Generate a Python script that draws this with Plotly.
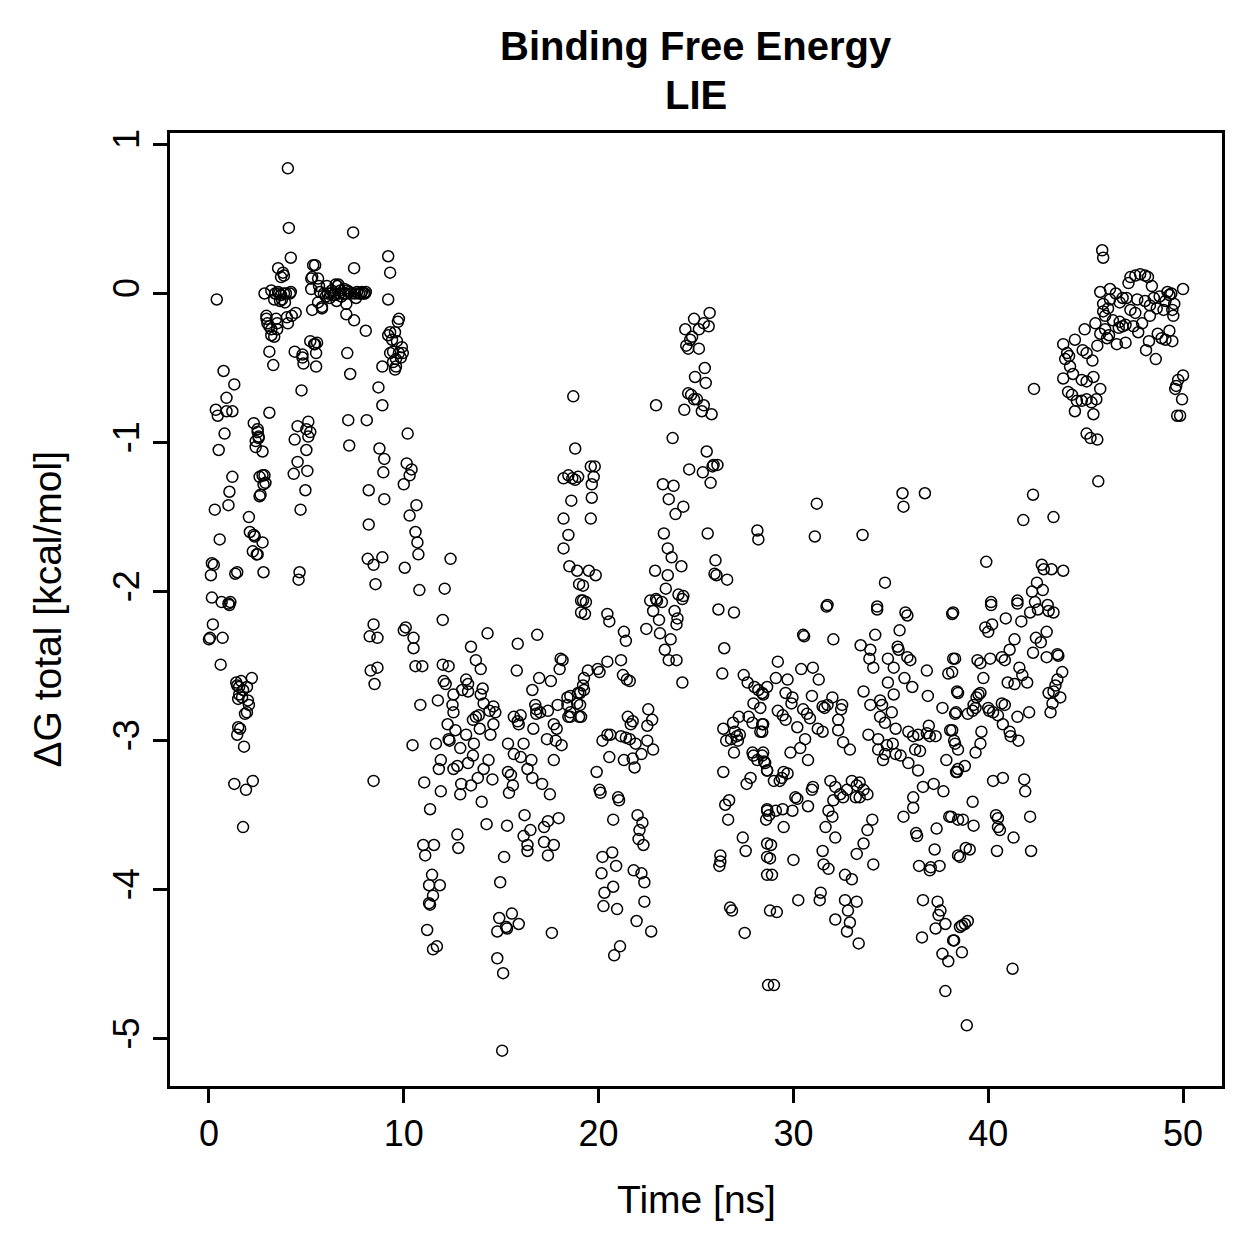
import plotly.graph_objects as go

# ---- data: (time [ns], dG total [kcal/mol]), grouped by time window ----
seg_00_06 = [
    (0.0, -2.32), (0.05, -2.31), (0.1, -1.89), (0.15, -1.81), (0.15, -2.04), (0.2, -2.22), (0.25, -1.82),
    (0.3, -1.45), (0.4, -0.04), (0.35, -0.78), (0.45, -0.82), (0.5, -1.05), (0.55, -1.65), (0.6, -2.49),
    (0.65, -2.07), (0.7, -2.31), (0.75, -0.52), (0.8, -0.94), (0.9, -0.70), (0.9, -0.79), (1.0, -1.42),
    (1.05, -1.33), (1.1, -2.07), (1.2, -1.23), (1.2, -0.79), (1.3, -0.61), (1.0, -2.08), (1.05, -2.09),
    (1.35, -1.88), (1.4, -2.61), (1.45, -2.96), (1.5, -2.91), (1.3, -3.29), (1.55, -2.64), (1.65, -2.60),
    (1.7, -2.71), (1.75, -3.58), (1.75, -2.66), (1.8, -3.04), (1.9, -3.33), (1.95, -2.81), (1.95, -2.64),
    (2.0, -2.73), (2.05, -1.50), (2.1, -1.60), (2.2, -2.58), (2.25, -3.27), (2.25, -1.73), (2.3, -0.87),
    (2.35, -1.63), (2.4, -0.99), (2.45, -1.75), (2.5, -0.91), (2.55, -0.96), (2.6, -1.23), (2.65, -1.35),
    (2.75, -1.67), (2.75, -1.22), (2.8, -1.87), (2.85, 0.0), (2.9, -1.27), (2.95, -0.15), (3.0, -0.2),
    (3.1, -0.39), (3.1, -0.80), (3.2, -0.24), (3.3, -0.48), (3.35, -0.29), (3.4, 0.0), (3.5, -0.2),
    (3.55, 0.17), (3.6, 0.0), (3.7, 0.11), (3.7, -0.01), (3.75, -0.04), (3.8, 0.14), (3.85, 0.0),
    (3.9, -0.06), (3.95, 0.0), (4.0, -0.16), (4.05, 0.84), (4.1, 0.44), (4.15, 0.0), (4.2, 0.24),
    (4.25, -0.15), (4.35, -1.21), (4.4, -0.98), (4.4, -0.39), (4.45, -0.13), (4.55, -0.89), (4.55, -1.13),
    (4.6, -1.92), (4.65, -1.87), (4.7, -1.45), (4.75, -0.65), (4.8, -0.43), (4.85, -0.47), (4.95, -1.32),
    (5.0, -0.91), (5.05, -1.19), (5.1, -0.86), (5.1, -0.96), (5.2, -0.32), (5.25, 0.1), (5.3, -0.11),
    (5.35, 0.19), (5.45, -0.34), (5.5, -0.49), (5.55, -0.33), (5.6, 0.1), (5.65, 0.05), (5.7, 0.01),
    (5.8, -0.09), (1.45, -2.63), (1.55, -2.69), (1.5, -2.72), (2.05, -2.76), (1.85, -2.82), (1.6, -2.92),
    (3.85, 0.12), (3.2, 0.02), (3.55, 0.01), (4.2, 0.01), (3.65, -0.05), (3.35, -0.04), (4.05, -0.2),
    (2.95, -0.17), (3.1, -0.22), (3.45, -0.17), (3.5, -0.24), (3.2, -0.28), (4.8, -0.41), (5.4, -0.34),
    (5.5, -0.40), (2.5, -0.93), (2.55, -0.97), (2.4, -1.03), (2.75, -1.06), (5.2, -0.93), (5.0, -1.05),
    (2.85, -1.22), (2.8, -1.28), (2.6, -1.36), (2.3, -1.62), (2.5, -1.75), (1.45, -1.87),
]

seg_06_10 = [
    (5.9, 0.0), (6.0, -0.02), (6.05, 0.05), (6.1, 0.0), (6.2, -0.03), (6.25, 0.0), (6.3, 0.02),
    (6.4, -0.01), (6.45, -0.01), (6.5, 0.06), (6.55, -0.05), (6.6, 0.05), (6.65, 0.06), (6.7, 0.0),
    (6.75, 0.02), (6.8, -0.02), (6.9, 0.0), (6.95, 0.03), (7.05, -0.07), (7.0, 0.0), (7.1, 0.02),
    (7.2, 0.01), (7.3, 0.0), (7.5, 0.0), (7.55, -0.03), (7.6, 0.01), (7.7, 0.0), (7.8, 0.0),
    (7.85, 0.01), (7.95, 0.0), (8.0, 0.0), (8.05, 0.01),
    (5.25, 0.03), (5.3, 0.11), (5.45, 0.19), (5.6, -0.06), (5.8, -0.10), (7.05, -0.14), (7.45, -0.18),
    (8.05, -0.25), (7.1, -0.40), (7.25, -0.54), (7.15, -0.85), (8.1, -0.85), (7.2, -1.02), (7.4, 0.41),
    (7.45, 0.17), (8.2, -1.32), (8.2, -1.55), (8.15, -1.78), (8.45, -1.82), (8.9, -1.77), (8.55, -1.95),
    (8.45, -2.22), (8.25, -2.30), (8.65, -2.31), (8.3, -2.53), (8.65, -2.51), (8.5, -2.62), (8.45, -3.27),
    (8.7, -0.63), (8.9, -0.75), (8.75, -1.04), (9.0, -1.11), (8.95, -1.2), (9.0, -1.38), (9.2, 0.25),
    (9.3, 0.14), (9.2, -0.04), (9.3, -0.26), (9.2, -0.28), (8.9, -0.49), (9.3, -0.40), (9.45, -0.46),
    (9.55, -0.51), (9.6, -0.44), (9.65, -0.32), (9.7, -0.19), (9.75, -0.40), (9.85, -0.43), (9.9, -0.36),
    (9.6, -0.49), (9.4, -0.31), (9.45, -0.39), (9.55, -0.26), (9.95, -0.40), (9.75, -0.17),
]

seg_10_15 = [
    (10.2, -0.94), (10.15, -1.14), (10.4, -1.18), (10.3, -1.22), (10.0, -1.28), (10.65, -1.42),
    (10.3, -1.49), (10.6, -1.60), (10.7, -1.67), (10.75, -1.75), (10.05, -1.84), (12.4, -1.78),
    (10.8, -1.99), (12.1, -1.98), (12.0, -2.19), (10.1, -2.24), (10.0, -2.26), (10.5, -2.31),
    (10.5, -2.38), (10.6, -2.50), (10.95, -2.50), (12.0, -2.49), (12.3, -2.50), (14.3, -2.28),
    (13.45, -2.37), (13.7, -2.46), (13.95, -2.52), (12.05, -2.60), (12.15, -2.62), (13.2, -2.59),
    (13.3, -2.62), (13.0, -2.66), (13.3, -2.67), (13.95, -2.69), (14.05, -2.65), (12.55, -2.69),
    (10.85, -2.76), (11.75, -2.73), (12.5, -2.76), (12.55, -2.81), (14.1, -2.75), (14.6, -2.77),
    (14.7, -2.81), (14.4, -2.80), (13.7, -2.84), (13.85, -2.83), (13.55, -2.86), (14.6, -2.89),
    (12.25, -2.89), (12.65, -2.93), (12.3, -2.99), (12.35, -3.0), (11.65, -3.02), (10.45, -3.03),
    (12.9, -3.05), (13.2, -2.96), (13.9, -2.92), (14.45, -2.96), (13.6, -3.02), (13.55, -3.10),
    (11.9, -3.13), (11.8, -3.19), (12.75, -3.17), (12.55, -3.19), (13.3, -3.15), (14.35, -3.13),
    (14.1, -3.19), (13.8, -3.25), (14.55, -3.26), (12.95, -3.29), (12.9, -3.36), (13.45, -3.30),
    (11.05, -3.28), (11.9, -3.34), (11.35, -3.46), (14.0, -3.41), (14.25, -3.56), (12.75, -3.63),
    (12.8, -3.72), (11.0, -3.70), (11.55, -3.70), (11.1, -3.77), (11.45, -3.90), (11.3, -3.97),
    (11.85, -3.97), (11.5, -4.04), (11.3, -4.09), (11.35, -4.10), (11.2, -4.27), (11.7, -4.38),
    (11.5, -4.40), (14.95, -3.95), (14.9, -4.19), (14.8, -4.28), (14.8, -4.46), (15.05, -5.08),
]

seg_15_20 = [
    (15.85, -2.35), (16.85, -2.29), (15.65, -2.84), (15.85, -2.87), (16.0, -2.83), (15.9, -2.89),
    (16.75, -2.76), (16.8, -2.82), (17.0, -2.81), (16.8, -2.79), (17.4, -2.80), (17.9, -2.76),
    (18.4, -2.76), (18.45, -2.84), (18.9, -2.75), (19.0, -2.84), (15.35, -3.02), (16.15, -3.02),
    (16.65, -2.92), (17.35, -2.99), (17.8, -3.0), (18.1, -3.03), (17.7, -2.89), (17.85, -2.92),
    (15.65, -3.09), (16.0, -3.11), (16.55, -3.13), (16.35, -3.19), (15.35, -3.21), (15.5, -3.23),
    (15.6, -3.30), (15.4, -3.35), (16.6, -3.25), (17.1, -3.29), (17.5, -3.36), (17.7, -3.13),
    (15.3, -3.57), (16.2, -3.50), (16.5, -3.60), (16.15, -3.64), (16.35, -3.70), (16.35, -3.74),
    (17.2, -3.58), (17.4, -3.54), (17.95, -3.52), (17.2, -3.68), (17.7, -3.70), (17.4, -3.77),
    (15.15, -3.78), (15.55, -4.16), (15.25, -4.25), (15.3, -4.26), (15.9, -4.23), (17.6, -4.29),
    (15.1, -4.56), (18.05, -2.45), (18.15, -2.46), (18.0, -2.52), (15.8, -2.53), (16.95, -2.58),
    (17.55, -2.60), (16.6, -2.66), (18.4, -2.71), (18.95, -2.68), (19.1, -2.14), (19.1, -2.06),
    (18.7, -0.69), (18.8, -1.04), (18.2, -1.24), (18.45, -1.22), (18.65, -1.24), (18.8, -1.25),
    (18.95, -1.23), (18.6, -1.39), (18.2, -1.51), (18.45, -1.62), (18.2, -1.71), (18.5, -1.83),
    (18.9, -1.86), (19.0, -1.95), (19.2, -2.06), (19.6, -1.16), (19.8, -1.16), (19.75, -1.23),
    (19.65, -1.28), (19.65, -1.37), (19.6, -1.51), (19.5, -1.86), (19.85, -1.89), (19.2, -1.96),
    (19.35, -2.07), (19.3, -2.15), (18.55, -2.70), (18.55, -2.84), (19.45, -2.53), (19.25, -2.58),
    (19.2, -2.63), (19.25, -2.66), (19.05, -2.68), (19.95, -2.52), (20.05, -2.54), (19.05, -2.76),
    (19.1, -2.84), (18.55, -2.81), (19.9, -3.21),
]

seg_20_28 = [
    (20.45, -2.47), (21.15, -2.46), (21.25, -2.56), (21.45, -2.59), (21.6, -2.60), (20.45, -2.15),
    (20.55, -2.20), (21.3, -2.27), (21.4, -2.33), (22.45, -2.25), (22.8, -2.13), (23.0, -2.06),
    (23.25, -2.07), (23.1, -2.19), (23.15, -2.28), (23.7, -2.32), (23.9, -2.13), (24.05, -2.18),
    (24.0, -2.22), (24.3, -2.05), (23.4, -2.39), (23.6, -2.46), (24.0, -2.46), (24.3, -2.61),
    (22.65, -2.06), (22.95, -2.05), (24.1, -2.02), (24.35, -2.03), (23.45, -1.98),
    (22.55, -2.79), (22.75, -2.86), (21.5, -2.84), (21.75, -2.87), (21.65, -2.89), (22.5, -2.90),
    (20.45, -2.96), (20.6, -2.96), (20.2, -3.0), (21.15, -2.97), (21.4, -2.98), (21.6, -2.99),
    (21.9, -3.02), (22.5, -3.0), (22.8, -3.06), (22.2, -3.09), (20.55, -3.11), (21.3, -3.13),
    (21.75, -3.12), (21.85, -3.18), (20.05, -3.33), (20.1, -3.35), (21.0, -3.38), (21.05, -3.40),
    (20.75, -3.53), (22.0, -3.50), (22.25, -3.55), (22.1, -3.60), (22.05, -3.66), (22.3, -3.70),
    (20.7, -3.75), (20.2, -3.78), (20.9, -3.84), (20.15, -3.89), (21.8, -3.87), (22.2, -3.89),
    (22.35, -3.95), (20.75, -3.98), (20.3, -4.02), (22.35, -4.08), (20.25, -4.11), (20.95, -4.13),
    (21.95, -4.21), (22.7, -4.28), (21.1, -4.38), (20.8, -4.44),
    (25.7, -0.13), (24.9, -0.17), (24.45, -0.24), (25.4, -0.20), (25.65, -0.22), (25.15, -0.24),
    (24.8, -0.29), (24.7, -0.31), (24.5, -0.35), (24.6, -0.37), (25.15, -0.37), (25.45, -0.50),
    (24.95, -0.56), (25.5, -0.60), (24.6, -0.67), (24.75, -0.68), (24.9, -0.71), (25.05, -0.71),
    (24.4, -0.78), (25.3, -0.79), (25.4, -0.75), (25.8, -0.81), (22.95, -0.75), (23.8, -0.97),
    (25.55, -1.06), (24.65, -1.18), (25.35, -1.20), (25.75, -1.27), (25.9, -1.15), (26.1, -1.15),
    (25.85, -1.16), (23.3, -1.28), (23.85, -1.29), (23.6, -1.38), (23.95, -1.48), (24.35, -1.43),
    (23.35, -1.61), (25.6, -1.61), (23.55, -1.71), (23.75, -1.77), (24.25, -1.83), (22.9, -1.86),
    (23.55, -1.89), (26.0, -1.79), (25.95, -1.88), (26.05, -1.89), (26.6, -1.92),
    (26.15, -2.12), (26.95, -2.14), (26.45, -2.38), (26.35, -2.55), (27.45, -2.56), (27.65, -2.61),
    (28.0, -2.64), (28.2, -2.66), (28.45, -2.69), (27.95, -2.75), (28.3, -2.78), (27.2, -2.84),
    (26.9, -2.88), (26.4, -2.92), (27.7, -2.84), (27.9, -2.88), (28.4, -2.89), (28.3, -2.94),
    (27.0, -2.94), (27.1, -2.97), (27.15, -3.0), (27.25, -2.96), (26.8, -2.99), (26.55, -3.0),
    (26.95, -3.08), (27.9, -3.08), (27.95, -3.10), (28.15, -3.13), (28.4, -3.10), (28.5, -3.14),
    (28.65, -3.2), (26.4, -3.21), (27.8, -3.25), (27.6, -3.29), (26.7, -3.40), (26.5, -3.43),
    (26.65, -3.53), (28.6, -3.53), (28.65, -3.46), (27.4, -3.65), (27.55, -3.74), (28.65, -3.69),
    (28.65, -3.78), (28.65, -3.90), (26.25, -3.77), (26.2, -3.84), (26.25, -3.81), (26.75, -4.12),
    (26.85, -4.14), (27.5, -4.29), (28.8, -4.14), (28.7, -4.64), (28.15, -1.59), (28.2, -1.65),
]

seg_28_38 = [
    (31.2, -1.41), (35.6, -1.34), (35.65, -1.43), (36.75, -1.34), (31.1, -1.63), (33.55, -1.62),
    (34.7, -1.94), (31.75, -2.09), (34.3, -2.10), (31.7, -2.10), (34.3, -2.12), (35.75, -2.14),
    (35.85, -2.16), (38.15, -2.15), (30.5, -2.29), (30.55, -2.30), (32.05, -2.32), (34.2, -2.29),
    (35.45, -2.26), (33.45, -2.36), (33.95, -2.39), (35.35, -2.37), (35.4, -2.39), (35.85, -2.44),
    (36.0, -2.46), (38.2, -2.45), (29.2, -2.47), (30.4, -2.52), (31.0, -2.51), (31.3, -2.59),
    (29.1, -2.58), (29.7, -2.59), (33.9, -2.45), (34.85, -2.45), (34.1, -2.51), (35.15, -2.51),
    (36.85, -2.53), (34.85, -2.61), (35.7, -2.58), (36.1, -2.64), (33.6, -2.67), (35.15, -2.69),
    (36.9, -2.70), (37.95, -2.55), (38.4, -2.67), (28.65, -2.64), (28.4, -2.68), (29.6, -2.68),
    (29.95, -2.71), (29.9, -2.75), (30.95, -2.70), (32.0, -2.71), (31.75, -2.76), (32.5, -2.76),
    (32.45, -2.79), (31.5, -2.77), (31.6, -2.78), (29.2, -2.80), (29.45, -2.83), (29.6, -2.86),
    (30.5, -2.79), (30.7, -2.82), (30.85, -2.85), (30.2, -2.91), (31.25, -2.92), (31.5, -2.94),
    (32.3, -2.86), (32.3, -2.93), (32.55, -3.01), (32.9, -3.06), (28.45, -2.89), (28.4, -2.94),
    (30.6, -2.99), (30.35, -3.05), (29.85, -3.08), (30.75, -3.13), (28.45, -3.08), (28.55, -3.15),
    (28.65, -3.20), (29.0, -3.27), (29.4, -3.25), (29.5, -3.21), (29.7, -3.22), (29.3, -3.27),
    (33.95, -2.76), (34.45, -2.73), (34.55, -2.76), (34.45, -2.84), (34.7, -2.88), (35.05, -2.81),
    (35.25, -2.92), (33.85, -2.96), (34.35, -2.99), (34.8, -3.03), (35.1, -3.02), (34.35, -3.06),
    (34.7, -3.09), (35.25, -3.09), (34.6, -3.13), (35.5, -3.10), (35.9, -2.94), (36.15, -2.97),
    (36.4, -2.96), (36.85, -2.95), (37.0, -2.97), (36.95, -2.90), (36.25, -3.06), (36.5, -3.07),
    (35.9, -3.15), (36.4, -3.20), (37.3, -2.97), (37.65, -2.78), (38.05, -2.93), (38.3, -2.82),
    (38.3, -3.02), (37.85, -3.13), (38.35, -3.21), (36.65, -3.31), (37.2, -3.29), (37.7, -3.34),
    (36.15, -3.38), (36.15, -3.45), (35.65, -3.51), (36.35, -3.64), (36.3, -3.62), (37.35, -3.59),
    (37.25, -3.73), (38.0, -3.51), (38.45, -3.53), (36.45, -3.84), (37.0, -3.87), (37.05, -3.85),
    (37.5, -3.84), (38.45, -3.77), (36.65, -4.07), (37.4, -4.08), (37.55, -4.14), (37.45, -4.17),
    (37.8, -4.23), (37.3, -4.26), (36.6, -4.32), (38.2, -4.34), (38.55, -4.25), (37.65, -4.43),
    (37.95, -4.48), (37.8, -4.68),
    (31.9, -3.27), (32.15, -3.31), (32.4, -3.36), (32.55, -3.38), (32.75, -3.33), (33.0, -3.27),
    (33.25, -3.30), (33.4, -3.28), (33.6, -3.33), (33.8, -3.36), (33.2, -3.38), (33.4, -3.38),
    (32.05, -3.40), (31.8, -3.47), (32.0, -3.51), (31.65, -3.58), (32.15, -3.65), (30.1, -3.38),
    (30.2, -3.39), (30.75, -3.44), (29.95, -3.47), (31.0, -3.31), (30.95, -3.33), (28.65, -3.47),
    (28.75, -3.5), (29.45, -3.46), (29.1, -3.47), (29.5, -3.58), (34.05, -3.53), (33.8, -3.60),
    (33.6, -3.69), (33.25, -3.76), (34.1, -3.83), (32.65, -3.90), (33.0, -3.93), (31.5, -3.74),
    (31.55, -3.83), (31.8, -3.86), (28.85, -3.70), (28.8, -3.79), (28.9, -3.90), (30.0, -3.80),
    (31.4, -4.02), (31.35, -4.07), (30.25, -4.07), (29.15, -4.15), (32.65, -4.07), (33.25, -4.08),
    (32.8, -4.14), (32.15, -4.20), (32.9, -4.22), (32.75, -4.28), (33.35, -4.36), (29.0, -4.64),
]

seg_38_44 = [
    (40.15, -2.09), (41.5, -2.08), (40.9, -2.18), (41.7, -2.20), (42.15, -2.14), (42.55, -2.12),
    (42.4, -2.07), (43.1, -2.13), (43.35, -2.14), (43.05, -2.09), (38.2, -2.14), (39.85, -2.24),
    (40.2, -2.22), (40.0, -2.27), (41.35, -2.32), (43.0, -2.27), (42.45, -2.31), (42.7, -2.34),
    (41.1, -2.39), (42.3, -2.41), (43.0, -2.44), (43.55, -2.42), (43.6, -2.43), (38.3, -2.45),
    (39.45, -2.46), (39.6, -2.48), (40.1, -2.45), (40.7, -2.44), (40.85, -2.46), (41.6, -2.51),
    (42.0, -2.61), (41.75, -2.56), (39.75, -2.58), (41.0, -2.61), (41.35, -2.62), (38.15, -2.54),
    (38.45, -2.68), (39.5, -2.69), (39.6, -2.68), (39.4, -2.71), (43.8, -2.54), (43.55, -2.59),
    (43.45, -2.63), (43.1, -2.68), (43.35, -2.67), (43.7, -2.71), (43.3, -2.75), (43.2, -2.81),
    (38.35, -2.81), (38.95, -2.82), (39.25, -2.76), (39.35, -2.78), (39.2, -2.80), (40.0, -2.78),
    (40.25, -2.81), (40.05, -2.80), (40.7, -2.75), (40.85, -2.76), (40.5, -2.83), (40.75, -2.89),
    (41.1, -2.94), (41.15, -2.97), (41.55, -3.00), (41.5, -2.84), (42.1, -2.81), (38.15, -2.93),
    (38.25, -3.0), (38.45, -3.06), (39.65, -2.94), (39.6, -3.02), (39.35, -3.08), (38.8, -3.17),
    (38.45, -3.19), (38.4, -3.21), (40.25, -3.27), (40.75, -3.25), (41.85, -3.26), (41.9, -3.34),
    (39.2, -3.41), (38.1, -3.51), (38.7, -3.53), (39.25, -3.57), (40.4, -3.50), (40.5, -3.52),
    (40.5, -3.58), (40.6, -3.60), (42.15, -3.51), (41.3, -3.65), (38.85, -3.72), (39.05, -3.73),
    (38.55, -3.78), (40.45, -3.74), (42.2, -3.74), (38.95, -4.21), (38.65, -4.24), (38.8, -4.23),
    (38.25, -4.34), (38.65, -4.42), (41.25, -4.53), (38.9, -4.91),
    (42.3, -1.35), (41.8, -1.52), (43.35, -1.50), (39.9, -1.80), (42.75, -1.82), (42.85, -1.85),
    (43.25, -1.85), (43.85, -1.86), (42.5, -1.94), (42.8, -1.99), (42.25, -2.0), (40.15, -2.07),
    (41.5, -2.06), (42.35, -0.64),
]

seg_44_50 = [
    (45.85, 0.29), (45.9, 0.24), (45.75, 0.01), (46.25, 0.03), (46.55, 0.0), (46.9, -0.03),
    (47.3, 0.11), (47.55, 0.12), (47.8, 0.13), (48.05, 0.12), (48.2, 0.11), (47.2, 0.07),
    (48.4, 0.05), (50.0, 0.03), (49.2, 0.01), (49.3, -0.01), (45.9, -0.07), (46.25, -0.04),
    (46.75, -0.06), (47.1, -0.03), (47.65, -0.04), (48.05, -0.05), (48.3, -0.08), (48.65, -0.10),
    (49.0, -0.11), (49.45, -0.11), (49.5, -0.15), (45.9, -0.12), (46.0, -0.15), (46.15, -0.10),
    (47.3, -0.11), (47.55, -0.13), (48.3, -0.15), (46.75, -0.19), (46.9, -0.22), (46.7, -0.23),
    (47.05, -0.21), (45.5, -0.20), (44.95, -0.24), (45.75, -0.27), (46.2, -0.28), (46.0, -0.24),
    (47.45, -0.22), (48.7, -0.27), (48.9, -0.30), (49.1, -0.31), (49.45, -0.32), (49.3, -0.25),
    (46.6, -0.34), (47.05, -0.33), (48.1, -0.38), (48.6, -0.44), (43.85, -0.34), (44.45, -0.31),
    (44.05, -0.40), (44.15, -0.42), (43.95, -0.44), (44.85, -0.38), (45.05, -0.40), (44.2, -0.49),
    (44.35, -0.54), (43.85, -0.57), (45.35, -0.45), (44.8, -0.58), (45.05, -0.59), (45.4, -0.56),
    (45.75, -0.64), (44.1, -0.66), (44.3, -0.68), (44.55, -0.72), (44.8, -0.72), (45.05, -0.71),
    (45.3, -0.73), (45.55, -0.71), (44.45, -0.79), (45.4, -0.81), (45.05, -0.94), (45.25, -0.97),
    (45.6, -0.98), (45.65, -1.26), (50.0, -0.55), (49.75, -0.58), (49.65, -0.62), (49.6, -0.64),
    (49.95, -0.71), (49.7, -0.82), (49.85, -0.82), (48.8, -0.02), (49.1, -0.05), (49.4, 0.0),
    (49.55, -0.07), (48.5, -0.03), (47.9, -0.2), (47.7, -0.26), (46.4, -0.18), (46.1, -0.3),
    (45.6, -0.35), (48.25, -0.32),
]

x_ticks = [0, 10, 20, 30, 40, 50]
y_ticks = [1, 0, -1, -2, -3, -4, -5]
title_lines = ["Binding Free Energy", "LIE"]
x_label = "Time [ns]"
y_label = "\u0394G total [kcal/mol]"

segments = [seg_00_06, seg_06_10, seg_10_15, seg_15_20, seg_20_28, seg_28_38, seg_38_44, seg_44_50]
time_ns = [p[0] for s in segments for p in s]
dg_total = [p[1] for s in segments for p in s]


def r_range(v):
    lo, hi = min(v), max(v)
    pad = 0.04 * (hi - lo)
    return [lo - pad, hi + pad]


FONT = "Liberation Sans, Arial, Helvetica, sans-serif"

fig = go.Figure()
fig.add_trace(go.Scatter(
    x=time_ns, y=dg_total, mode="markers",
    marker=dict(symbol="circle-open", size=11, color="black", line=dict(width=1.5, color="black")),
    showlegend=False, hoverinfo="x+y",
))

axis_common = dict(
    showgrid=False, zeroline=False, showline=True, linecolor="black", linewidth=2.5,
    mirror=True, ticks="outside", ticklen=14, tickwidth=2.5, tickcolor="black",
    tickfont=dict(family=FONT, size=36, color="black"),
)

fig.update_layout(
    width=1259, height=1259,
    margin=dict(l=170, r=37, t=133, b=173),
    paper_bgcolor="white", plot_bgcolor="white",
    xaxis=dict(range=r_range(time_ns), tickvals=x_ticks, ticktext=[str(t) for t in x_ticks], **axis_common),
    yaxis=dict(range=r_range(dg_total), tickvals=y_ticks, ticktext=[str(t) for t in y_ticks],
               tickangle=-90, **axis_common),
    annotations=[
        dict(text="<b>%s</b>" % title_lines[0], xref="paper", yref="paper", x=0.5, y=1.0913,
             xanchor="center", yanchor="middle", showarrow=False,
             font=dict(family=FONT, size=40, color="black")),
        dict(text="<b>%s</b>" % title_lines[1], xref="paper", yref="paper", x=0.5, y=1.0399,
             xanchor="center", yanchor="middle", showarrow=False,
             font=dict(family=FONT, size=40, color="black")),
        dict(text=x_label, xref="paper", yref="paper", x=0.5, y=-0.1196,
             xanchor="center", yanchor="middle", showarrow=False,
             font=dict(family=FONT, size=39, color="black")),
        dict(text=y_label, xref="paper", yref="paper", x=-0.116, y=0.5, textangle=-90,
             xanchor="center", yanchor="middle", showarrow=False,
             font=dict(family=FONT, size=39, color="black")),
    ],
)

fig.write_html("out.html")
